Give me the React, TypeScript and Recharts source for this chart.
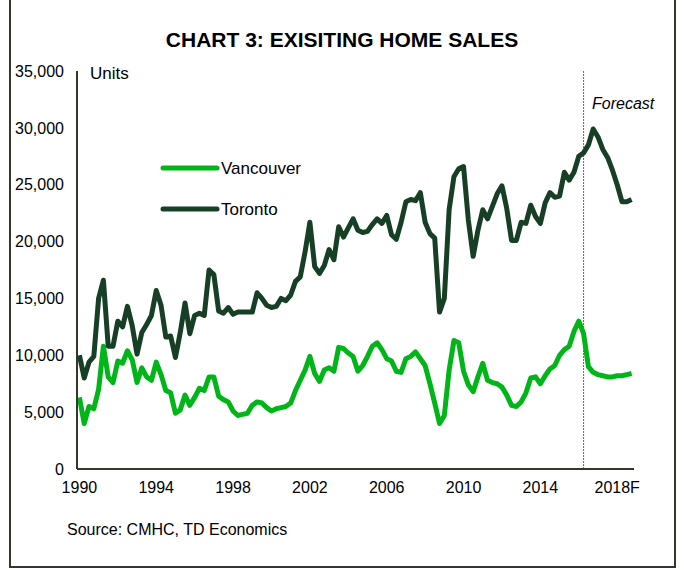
import { LineChart, Line, XAxis, YAxis, ReferenceLine, Legend } from 'recharts';

// quarterly, 1990Q1 .. 2018Q4 (forecast from mid-2016)
const years = Array.from({ length: 29 }, (_, i) => 1990 + i);
const quarters = years.flatMap((y) => [`${y}Q1`, `${y}Q2`, `${y}Q3`, `${y}Q4`]);

const vancouver = [
  6300, 4000, 5500, 5300, 7000, 10800, 8100, 7600, 9500, 9300, 10400, 9600,
  7600, 8900, 8100, 7800, 9400, 8300, 6900, 6700, 4900, 5200, 6500, 5600,
  6300, 7100, 6900, 8100, 8100, 6400, 6100, 5900, 5100, 4700, 4800, 4900,
  5600, 5900, 5800, 5400, 5100, 5300, 5400, 5500, 5800, 6900, 7800, 8700,
  9900, 8400, 7700, 8700, 8900, 8600, 10700, 10600, 10200, 9900, 8600, 9100,
  9900, 10800, 11100, 10500, 9700, 9500, 8600, 8500, 9700, 9900, 10300, 9700,
  9100, 7500, 5800, 4000, 4700, 8700, 11300, 11100, 8600, 7400, 6800, 8100,
  9300, 7800, 7600, 7500, 7200, 6500, 5600, 5500, 5900, 6700, 8000, 8100,
  7500, 8200, 8800, 9100, 10000, 10500, 10800, 12100, 13000, 11900, 9000, 8500,
  8300, 8200, 8100, 8100, 8200, 8200, 8300, 8400,
];

const toronto = [
  10000, 8000, 9400, 9900, 15000, 16600, 10800, 10800, 13000, 12500, 14300, 12600,
  10100, 12000, 12700, 13500, 15700, 14400, 11600, 11700, 9800, 12000, 14600, 11900,
  13500, 13700, 13500, 17500, 17100, 13900, 13700, 14200, 13600, 13800, 13800, 13800,
  13800, 15500, 15000, 14400, 14200, 14300, 15000, 14800, 15300, 16500, 16900, 19100,
  21700, 17800, 17200, 17900, 19300, 18400, 21300, 20400, 21200, 22000, 21000, 20800,
  20900, 21500, 22000, 21600, 22300, 20600, 20200, 21700, 23500, 23700, 23600, 24300,
  21700, 20700, 20300, 13800, 15000, 22800, 25700, 26400, 26600, 21900, 18700, 21000,
  22800, 22000, 23100, 24200, 24900, 22900, 20100, 20100, 21700, 21600, 23200, 22200,
  21600, 23400, 24300, 23900, 24000, 26100, 25400, 26100, 27500, 27800, 28500, 29900,
  29200, 28100, 27400, 26300, 25000, 23500, 23500, 23700,
];

const yTicks = [0, 5000, 10000, 15000, 20000, 25000, 30000, 35000];
const xTickLabels = ['1990', '1994', '1998', '2002', '2006', '2010', '2014', '2018F'];
const legendOrder = ['Vancouver', 'Toronto'];
const forecastStart = '2016Q2';

const data = quarters.map((q, i) => ({ q, vancouver: vancouver[i], toronto: toronto[i] }));

const FONT = '"Liberation Sans", Arial, sans-serif';
const AXIS = '#34372a';

const fmtX = (q: string) => xTickLabels.find((l) => l.startsWith(q.slice(0, 4))) ?? '';

function LegendBox({ payload }: any) {
  const items = [...(payload || [])].sort((a: any, b: any) => legendOrder.indexOf(a.value) - legendOrder.indexOf(b.value));
  return (
    <svg width={200} height={70}>
      {items.map((p: any, i: number) => (
        <g key={p.value} transform={`translate(0, ${13 + i * 41})`}>
          <line x1={3} x2={57} y1={0} y2={0} stroke={p.color} strokeWidth={5} strokeLinecap="round" />
          <text x={61} y={0} dy="0.355em" fontSize={17} fontFamily={FONT} fill="#000">{p.value}</text>
        </g>
      ))}
    </svg>
  );
}

export default function App() {
  return (
    <div style={{ position: 'absolute', left: 0, top: 0, width: 684, height: 570, background: '#fff', fontFamily: FONT }}>
      <div style={{ position: 'absolute', left: 9, top: -2, width: 663, height: 566, border: `2px solid ${AXIS}` }} />
      <div style={{ position: 'absolute', left: 0, width: 684, top: 27, textAlign: 'center', fontWeight: 'bold', fontSize: 21, lineHeight: '26px' }}>
        CHART 3: EXISITING HOME SALES
      </div>
      <LineChart width={684} height={570} data={data} margin={{ top: 71, right: 50, bottom: 71, left: 17 }} style={{ position: 'absolute', left: 0, top: 0 }}>
        <XAxis
          dataKey="q"
          interval={15}
          padding={{ left: 2.4, right: 2.4 }}
          tickFormatter={fmtX}
          tickLine={false}
          tickMargin={7}
          height={30}
          axisLine={{ stroke: AXIS, strokeWidth: 2 }}
          tick={{ fill: '#000', fontSize: 16, fontFamily: FONT }}
        />
        <YAxis
          domain={[0, 35000]}
          ticks={yTicks}
          width={60}
          tickLine={false}
          tickMargin={7}
          tickFormatter={(v: number) => v.toLocaleString('en-US')}
          axisLine={{ stroke: AXIS, strokeWidth: 2 }}
          tick={{ fill: '#000', fontSize: 16, fontFamily: FONT }}
        />
        <ReferenceLine x={forecastStart} stroke="#666" strokeWidth={1} strokeDasharray="2 1" />
        <Legend
          layout="vertical"
          align="center"
          verticalAlign="middle"
          content={<LegendBox />}
          wrapperStyle={{ position: 'absolute', left: 160, top: 155, width: 200, height: 70 }}
        />
        <Line type="linear" dataKey="vancouver" name="Vancouver" stroke="#00B517" strokeWidth={5} dot={false} strokeLinejoin="round" isAnimationActive={false} />
        <Line type="linear" dataKey="toronto" name="Toronto" stroke="#173F25" strokeWidth={5} dot={false} strokeLinejoin="round" isAnimationActive={false} />
      </LineChart>
      <div style={{ position: 'absolute', left: 90, top: 64, fontSize: 17, lineHeight: '20px' }}>Units</div>
      <div style={{ position: 'absolute', left: 592, top: 94, fontSize: 16, fontStyle: 'italic', lineHeight: '20px' }}>Forecast</div>
      <div style={{ position: 'absolute', left: 67, top: 520, fontSize: 16, lineHeight: '20px' }}>Source: CMHC, TD Economics</div>
    </div>
  );
}
